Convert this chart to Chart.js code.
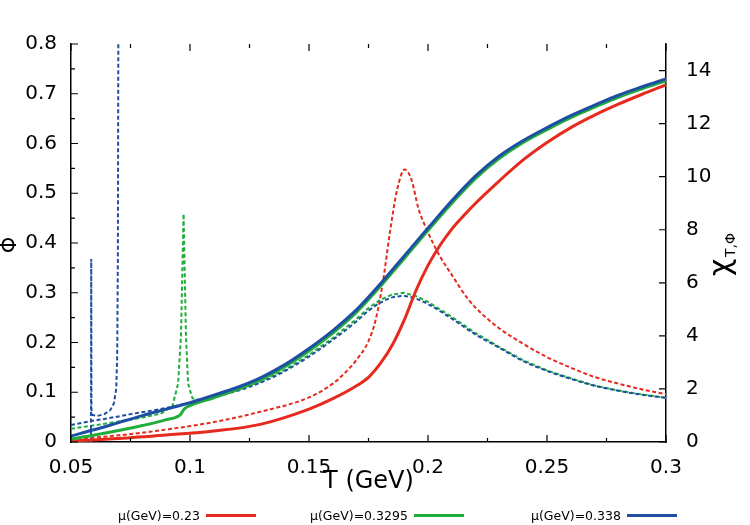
<!DOCTYPE html>
<html>
<head>
<meta charset="utf-8">
<script src="https://cdn.jsdelivr.net/npm/chart.js@4.4.0/dist/chart.umd.min.js"></script>
<style>
  html, body { margin: 0; padding: 0; background: #fff; }
  #wrap { position: relative; width: 750px; height: 525px; }
  .leg { position: absolute; top: 506px; height: 18px; font: 12.5px "DejaVu Sans", sans-serif; display: flex; align-items: center; white-space: nowrap; color: #000; }
  .leg .l { display: inline-block; width: 50px; height: 3px; margin-left: 6px; }
</style>
</head>
<body>
<div id="wrap">
  <canvas id="chart" width="750" height="525"></canvas>
  <div class="leg" style="left:118px">μ(GeV)=0.23<span class="l" style="background:#e62a1e"></span></div>
  <div class="leg" style="left:310px">μ(GeV)=0.3295<span class="l" style="background:#1fae3a"></span></div>
  <div class="leg" style="left:531px">μ(GeV)=0.338<span class="l" style="background:#1f4fa3"></span></div>
</div>
<script>
// Valeurs : T en GeV, Phi (axe gauche), chi_T,Phi (axe droit)
const xTicks = [0.05, 0.1, 0.15, 0.2, 0.25, 0.3];
const xTickLabels = ['0.05', '0.1', '0.15', '0.2', '0.25', '0.3'];
const phiTicks = [0, 0.1, 0.2, 0.3, 0.4, 0.5, 0.6, 0.7, 0.8];
const phiTickLabels = ['0', '0.1', '0.2', '0.3', '0.4', '0.5', '0.6', '0.7', '0.8'];
const chiTicks = [0, 2, 4, 6, 8, 10, 12, 14];
const chiTickLabels = ['0', '2', '4', '6', '8', '10', '12', '14'];

// Phi, mu = 0.23
const tRedPhi = [0.05, 0.07, 0.09, 0.11, 0.13, 0.15, 0.16, 0.17, 0.175, 0.18, 0.185, 0.19, 0.195, 0.2, 0.205, 0.21, 0.215, 0.22, 0.23, 0.24, 0.25, 0.26, 0.27, 0.28, 0.29, 0.3];
const phiRed = [0.002, 0.007, 0.014, 0.022, 0.036, 0.066, 0.087, 0.113, 0.13, 0.158, 0.195, 0.245, 0.305, 0.355, 0.395, 0.428, 0.455, 0.48, 0.525, 0.567, 0.602, 0.632, 0.657, 0.679, 0.699, 0.718];

// Phi, mu = 0.3295
const tGreenPhi = [0.05, 0.06, 0.07, 0.08, 0.09, 0.096, 0.0975, 0.1, 0.11, 0.12, 0.13, 0.14, 0.15, 0.16, 0.17, 0.18, 0.19, 0.2, 0.21, 0.22, 0.23, 0.24, 0.25, 0.26, 0.27, 0.28, 0.29, 0.3];
const phiGreen = [0.006, 0.014, 0.023, 0.033, 0.045, 0.055, 0.066, 0.073, 0.089, 0.106, 0.126, 0.152, 0.183, 0.219, 0.261, 0.313, 0.369, 0.425, 0.48, 0.53, 0.57, 0.602, 0.628, 0.652, 0.673, 0.693, 0.71, 0.726];

// Phi, mu = 0.338
const tBluePhi = [0.05, 0.06, 0.07, 0.08, 0.09, 0.1, 0.11, 0.12, 0.13, 0.14, 0.15, 0.16, 0.17, 0.18, 0.19, 0.2, 0.21, 0.22, 0.23, 0.24, 0.25, 0.26, 0.27, 0.28, 0.29, 0.3];
const phiBlue = [0.012, 0.025, 0.039, 0.053, 0.066, 0.079, 0.094, 0.11, 0.13, 0.156, 0.188, 0.224, 0.266, 0.318, 0.374, 0.43, 0.485, 0.535, 0.575, 0.606, 0.632, 0.656, 0.677, 0.697, 0.714, 0.73];

// chi, mu = 0.23
const tRedChi = [0.05, 0.07, 0.09, 0.11, 0.13, 0.15, 0.16, 0.165, 0.17, 0.175, 0.178, 0.181, 0.184, 0.187, 0.1902, 0.193, 0.196, 0.2, 0.205, 0.21, 0.2167, 0.223, 0.23, 0.24, 0.25, 0.26, 0.27, 0.28, 0.29, 0.3];
const chiRed = [0.1, 0.25, 0.47, 0.75, 1.15, 1.68, 2.2, 2.6, 3.1, 3.8, 4.6, 6.0, 7.9, 9.5, 10.27, 9.9, 8.8, 7.9, 7.0, 6.3, 5.4, 4.8, 4.28, 3.7, 3.2, 2.8, 2.45, 2.2, 1.98, 1.8];

// chi, mu = 0.3295
const tGreenChi = [0.05, 0.06, 0.07, 0.08, 0.088, 0.0926, 0.095, 0.0962, 0.0973, 0.0983, 0.0992, 0.101, 0.104, 0.11, 0.12, 0.13, 0.14, 0.15, 0.16, 0.17, 0.175, 0.18, 0.185, 0.19, 0.195, 0.2, 0.21, 0.22, 0.23, 0.24, 0.25, 0.26, 0.27, 0.28, 0.29, 0.3];
const chiGreen = [0.5, 0.63, 0.77, 0.92, 1.08, 1.35, 2.2, 4.0, 8.6, 4.0, 2.2, 1.65, 1.58, 1.72, 1.96, 2.3, 2.73, 3.28, 3.92, 4.64, 5.05, 5.36, 5.56, 5.62, 5.5, 5.28, 4.72, 4.1, 3.58, 3.08, 2.7, 2.4, 2.13, 1.94, 1.79, 1.67];

// chi, mu = 0.338 (branche principale)
const tBlueChi = [0.05, 0.058, 0.066, 0.075, 0.085, 0.095, 0.1, 0.11, 0.12, 0.13, 0.14, 0.15, 0.16, 0.17, 0.175, 0.18, 0.185, 0.19, 0.195, 0.2, 0.21, 0.22, 0.23, 0.24, 0.25, 0.26, 0.27, 0.28, 0.29, 0.3];
const chiBlue = [0.64, 0.78, 0.9, 1.05, 1.2, 1.38, 1.48, 1.7, 1.93, 2.25, 2.68, 3.22, 3.85, 4.55, 4.95, 5.25, 5.45, 5.5, 5.4, 5.2, 4.65, 4.05, 3.55, 3.05, 2.68, 2.38, 2.12, 1.93, 1.78, 1.66];

// chi, mu = 0.338 (pics a basse temperature)
const tBlueSpike = [0.0584, 0.0585, 0.0586, 0.059, 0.061, 0.064, 0.0665, 0.068, 0.069, 0.0694, 0.0697, 0.0699];
const chiBlueSpike = [0, 6.9, 1.2, 1.02, 0.98, 1.05, 1.2, 1.45, 2.0, 3.2, 7, 16];

const RED = '#e62a1e', GREEN = '#1fae3a', BLUE = '#1f4fa3';

function pts(ts, vs) {
  return ts.map((t, i) => ({ x: t, y: vs[i] }));
}

function solid(ts, vs, color) {
  return { data: pts(ts, vs), yAxisID: 'y', borderColor: color, borderWidth: 3, pointRadius: 0, cubicInterpolationMode: 'monotone', fill: false };
}

function dashed(ts, vs, color, smooth) {
  return { data: pts(ts, vs), yAxisID: 'y1', borderColor: color, borderWidth: 2, borderDash: [4, 2.5], pointRadius: 0,
    cubicInterpolationMode: smooth ? 'monotone' : 'default', tension: 0, fill: false };
}

// Petits traits vers l'interieur + titres des axes
const decorations = {
  id: 'decorations',
  afterDraw(chart) {
    const { ctx, chartArea: a, scales: { x, y, y1 } } = chart;
    ctx.save();
    ctx.strokeStyle = '#000';
    ctx.lineWidth = 1.2;
    ctx.beginPath();
    for (let v = 0.05; v <= 0.3001; v += 0.025) {
      const px = x.getPixelForValue(v);
      const len = Math.abs((v / 0.05) - Math.round(v / 0.05)) < 0.01 ? 7 : 4;
      ctx.moveTo(px, a.bottom); ctx.lineTo(px, a.bottom - len);
      ctx.moveTo(px, a.top); ctx.lineTo(px, a.top + len);
    }
    for (let v = 0; v <= 0.8001; v += 0.05) {
      const py = y.getPixelForValue(v);
      const len = Math.abs((v / 0.1) - Math.round(v / 0.1)) < 0.01 ? 7 : 4;
      ctx.moveTo(a.left, py); ctx.lineTo(a.left + len, py);
    }
    chiTicks.forEach((v) => {
      const py = y1.getPixelForValue(v);
      ctx.moveTo(a.right, py); ctx.lineTo(a.right - 7, py);
    });
    ctx.stroke();

    ctx.fillStyle = '#000';
    ctx.textAlign = 'center';
    ctx.textBaseline = 'middle';
    ctx.font = '24px "DejaVu Sans", sans-serif';
    ctx.fillText('T (GeV)', (a.left + a.right) / 2, 482);

    ctx.save();
    ctx.translate(11, 245);
    ctx.rotate(-Math.PI / 2);
    ctx.font = '21px "DejaVu Sans", sans-serif';
    ctx.fillText('Φ', 0, 0);
    ctx.restore();

    ctx.translate(724, 250);
    ctx.rotate(-Math.PI / 2);
    ctx.textAlign = 'left';
    ctx.textBaseline = 'alphabetic';
    ctx.font = '30px "DejaVu Sans", sans-serif';
    ctx.fillText('χ', -26, 6);
    ctx.font = '14px "DejaVu Sans", sans-serif';
    ctx.fillText('T,Φ', -7, 11);
    ctx.restore();
  }
};

Chart.defaults.font.family = '"DejaVu Sans", sans-serif';
Chart.defaults.color = '#000';

new Chart(document.getElementById('chart'), {
  type: 'line',
  data: {
    datasets: [
      solid(tBluePhi, phiBlue, BLUE),
      solid(tGreenPhi, phiGreen, GREEN),
      solid(tRedPhi, phiRed, RED),
      dashed(tBlueChi, chiBlue, BLUE, true),
      dashed(tBlueSpike, chiBlueSpike, BLUE, false),
      dashed(tGreenChi, chiGreen, GREEN, false),
      dashed(tRedChi, chiRed, RED, true)
    ]
  },
  options: {
    responsive: false,
    animation: false,
    layout: { padding: { top: 44, left: 0, right: 0, bottom: 0 } },
    plugins: { legend: { display: false }, tooltip: { enabled: false } },
    scales: {
      x: {
        type: 'linear', min: 0.05, max: 0.3,
        afterBuildTicks: (s) => { s.ticks = xTicks.map((v) => ({ value: v })); },
        afterFit: (s) => { s.height = 83; },
        grid: { display: false },
        border: { display: true, color: '#000', width: 1.5 },
        ticks: { padding: 6, maxRotation: 0, font: { size: 20 }, callback: (v, i) => xTickLabels[i] }
      },
      y: {
        position: 'left', min: 0, max: 0.8,
        afterBuildTicks: (s) => { s.ticks = phiTicks.map((v) => ({ value: v })); },
        afterFit: (s) => { s.width = 71; },
        grid: { display: false },
        border: { display: true, color: '#000', width: 1.5 },
        ticks: { padding: 6, font: { size: 20 }, callback: (v, i) => phiTickLabels[i] }
      },
      y1: {
        position: 'right', min: 0, max: 15,
        afterBuildTicks: (s) => { s.ticks = chiTicks.map((v) => ({ value: v })); },
        afterFit: (s) => { s.width = 84; },
        grid: { display: false },
        border: { display: true, color: '#000', width: 1.5 },
        ticks: { padding: 12, font: { size: 20 }, callback: (v, i) => chiTickLabels[i] }
      }
    }
  },
  plugins: [decorations]
});
</script>
</body>
</html>
